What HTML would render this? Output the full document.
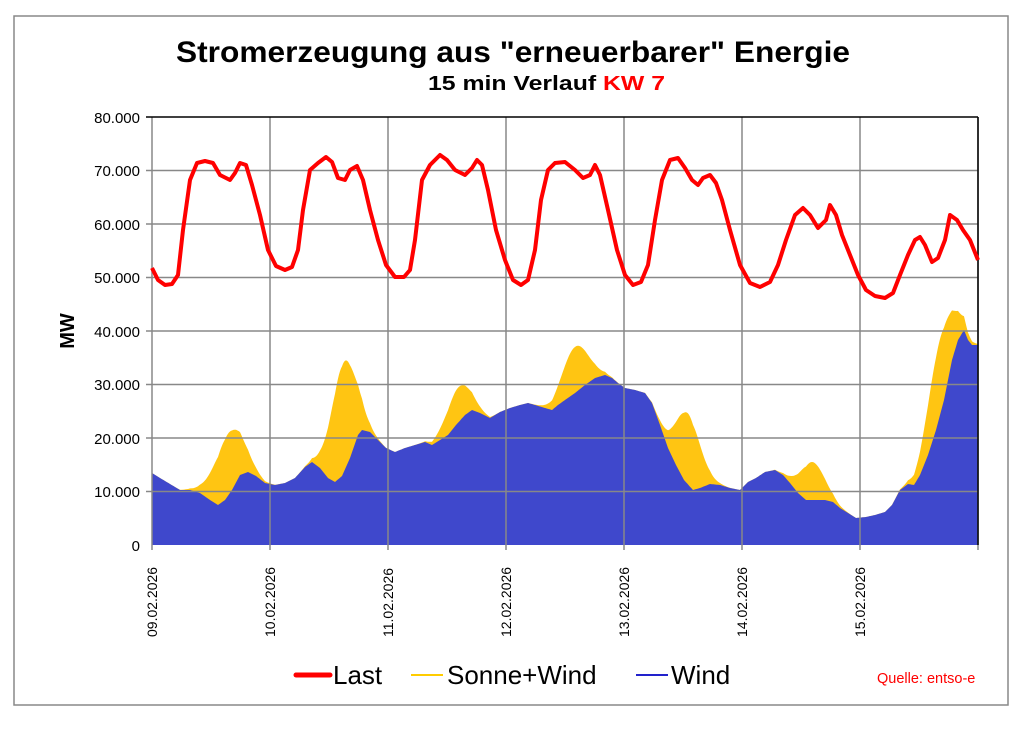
<!DOCTYPE html>
<html><head><meta charset="utf-8"><style>
body{margin:0;background:#fff;width:1024px;height:724px;overflow:hidden;font-family:"Liberation Sans",Arial,sans-serif}
</style></head><body>
<svg id="s" width="1024" height="724" xmlns="http://www.w3.org/2000/svg" font-family="Liberation Sans, Arial, sans-serif">
<rect x="14" y="16" width="994" height="689" fill="#fff" stroke="#888" stroke-width="1.5"/>
<text x="176" y="62" font-size="30" font-weight="bold" textLength="674" lengthAdjust="spacingAndGlyphs">Stromerzeugung aus "erneuerbarer" Energie</text>
<text x="428" y="90" font-size="20" font-weight="bold" textLength="237" lengthAdjust="spacingAndGlyphs">15 min Verlauf <tspan fill="#f00">KW 7</tspan></text>
<g id="plot"></g>
<g font-size="15" text-anchor="end" fill="#000">
<text x="140" y="123">80.000</text><text x="140" y="176">70.000</text><text x="140" y="230">60.000</text>
<text x="140" y="283">50.000</text><text x="140" y="337">40.000</text><text x="140" y="390">30.000</text>
<text x="140" y="444">20.000</text><text x="140" y="497">10.000</text><text x="140" y="551">0</text>
</g>
<text transform="translate(74,331) rotate(-90)" text-anchor="middle" font-size="20" font-weight="bold">MW</text>
<g font-size="14" id="xl"></g>
<line x1="296" y1="675" x2="330" y2="675" stroke="#f00" stroke-width="5" stroke-linecap="round"/>
<text x="333" y="684" font-size="26">Last</text>
<line x1="411" y1="675" x2="443" y2="675" stroke="#fc0" stroke-width="2"/>
<text x="447" y="684" font-size="26">Sonne+Wind</text>
<line x1="636" y1="675" x2="668" y2="675" stroke="#22c" stroke-width="2"/>
<text x="671" y="684" font-size="26">Wind</text>
<text x="877" y="683" font-size="14.5" fill="#f00">Quelle: entso-e</text>
</svg>
<script>
var last=[[152,268],[158,280],[165,285],[172,284],[178,275],[183,230],[190,180],[197,163],[205,161],[213,163],[220,175],[230,180],[235,173],[240,163],[246,165],[252,185],[260,215],[268,250],[276,266],[285,270],[292,267],[298,250],[303,210],[310,170],[318,163],[326,157],[332,162],[338,178],[345,180],[350,170],[357,166],[363,180],[370,210],[378,240],[386,265],[395,277],[404,277],[410,270],[415,240],[422,180],[430,165],[440,155],[447,160],[455,170],[465,175],[472,168],[477,160],[482,165],[488,190],[496,230],[505,260],[513,280],[521,285],[528,280],[535,250],[541,200],[548,170],[555,163],[565,162],[575,170],[583,178],[590,175],[595,165],[600,175],[608,210],[617,250],[625,275],[633,285],[641,282],[648,265],[655,220],[662,180],[670,160],[678,158],[685,168],[692,180],[698,185],[703,178],[710,175],[716,183],[722,200],[730,230],[740,265],[750,283],[760,287],[770,282],[778,265],[786,240],[795,215],[803,208],[810,215],[818,228],[826,220],[830,205],[836,215],[842,235],[850,255],[858,275],[866,290],[875,296],[885,298],[893,293],[900,275],[908,255],[915,240],[920,237],[925,245],[932,262],[938,258],[945,240],[950,215],[957,220],[963,230],[970,240],[978,260]];
var wind=[[152,473],[160,478],[170,484],[180,490],[190,490],[200,493],[210,500],[218,505],[225,500],[232,490],[240,475],[248,472],[256,476],[265,483],[275,485],[285,483],[295,478],[305,467],[312,462],[320,468],[328,478],[335,482],[342,476],[350,458],[358,435],[362,430],[370,432],[378,440],[386,448],[395,452],[405,448],[415,445],[425,442],[432,445],[440,440],[448,435],[456,425],[465,415],[472,410],[480,413],[490,418],[500,412],[510,408],[520,405],[528,403],[535,405],[545,408],[552,410],[558,405],[565,400],[575,393],[585,385],[595,378],[605,375],[612,378],[618,383],[625,388],[635,390],[645,393],[652,403],[660,425],[668,448],[676,465],[684,480],[693,490],[700,488],[710,484],[720,485],[730,488],[740,490],[748,482],[756,478],[765,472],[775,470],[783,475],[790,483],[798,493],[806,500],[815,500],[825,500],[833,502],[840,508],[848,513],[856,518],[866,517],[875,515],[885,512],[892,505],[900,490],[908,484],[914,485],[920,475],[928,455],[936,430],[944,400],[952,360],[958,340],[964,330],[968,340],[972,345],[978,345]];
var bumps=[[228,62,14],[343,110,12],[458,35,12],[575,46,13],[688,71,12],[812,38,12],[940,76,13]];
function interp(a,x){for(var i=1;i<a.length;i++){if(x<=a[i][0]){var p=a[i-1],q=a[i],t=(x-p[0])/(q[0]-p[0]);return p[1]+t*(q[1]-p[1]);}}return a[a.length-1][1];}
var sp=[],wp=[];
for(var x=152;x<=978;x++){var w=interp(wind,x),b=0;bumps.forEach(function(k){b+=k[1]*Math.exp(-Math.pow((x-k[0])/k[2],2)/2)});sp.push(x+','+(w-b).toFixed(1));wp.push(x+','+w.toFixed(1));}
var g='';
g+='<polygon points="152,545 '+sp.join(' ')+' 978,545" fill="#ffc512"/>';
g+='<polygon points="152,545 '+wp.join(' ')+' 978,545" fill="#3f48cc"/>';
for(var i=1;i<8;i++){var y=117+i*53.5;g+='<line x1="146" x2="978" y1="'+y+'" y2="'+y+'" stroke="#888" stroke-width="1.5"/>';}
for(var d=0;d<=7;d++){var xx=152+d*118;g+='<line x1="'+xx+'" x2="'+xx+'" y1="117" y2="550" stroke="#888" stroke-width="1.5"/>';}
g+='<line x1="146" x2="978" y1="117" y2="117" stroke="#000" stroke-width="1.5"/>';
g+='<line x1="978" x2="978" y1="117" y2="545" stroke="#000" stroke-width="1.5"/>';
g+='<polyline points="'+last.map(function(p){return p.join(',')}).join(' ')+'" fill="none" stroke="#f00" stroke-width="4" stroke-linejoin="round"/>';
document.getElementById('plot').innerHTML=g;
var dates=['09.02.2026','10.02.2026','11.02.2026','12.02.2026','13.02.2026','14.02.2026','15.02.2026'];
var h='';dates.forEach(function(t,i){var xx=152+i*118+5;h+='<text transform="translate('+xx+',637) rotate(-90)" font-size="14">'+t+'</text>';});
document.getElementById('xl').innerHTML=h;
</script>
</body></html>
